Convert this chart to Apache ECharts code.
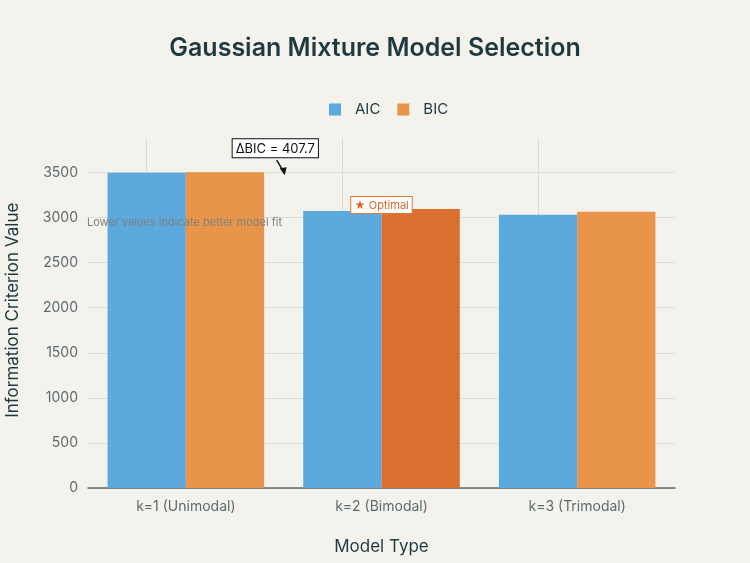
<!DOCTYPE html>
<html>
<head>
<meta charset="utf-8">
<script src="https://cdn.jsdelivr.net/npm/echarts@6/dist/echarts.min.js"></script>
<style>
  html, body { margin: 0; padding: 0; background: #f3f2ed; }
  #chartBox { width: 750px; height: 563px; }
</style>
</head>
<body>
<div id="chartBox"></div>
<script>
// data
const categories = ['k=1 (Unimodal)', 'k=2 (Bimodal)', 'k=3 (Trimodal)'];
const aicValues = [3497, 3073, 3031];
const bicValues = [3503, 3095, 3064];
const optimalIndex = 1;
const deltaBic = 407.7;

const blue = '#5ba9dd';
const orange = '#e8954a';
const orangeDark = '#db6f2f';
const textDark = '#1f3a3f';
const textGrey = '#5e6b6e';
const gridColor = '#dcdcd6';
const font = 'Inter, Liberation Sans, Arial, sans-serif';

const chart = echarts.init(document.getElementById('chartBox'));

const option = {
  backgroundColor: '#f3f2ed',
  textStyle: { fontFamily: font },
  title: {
    text: 'Gaussian Mixture Model Selection',
    left: 'center',
    top: 31,
    textStyle: { fontSize: 25, fontWeight: 600, color: textDark, fontFamily: font }
  },
  legend: {
    top: 97,
    left: 324,
    itemWidth: 12,
    itemHeight: 12,
    itemGap: 17,
    icon: 'rect',
    textStyle: { fontSize: 15, color: textDark, fontFamily: font, padding: [0, 0, 0, 9] },
    data: ['AIC', 'BIC']
  },
  // top edge sits on the 3500 tick; vertical gridlines run higher
  grid: { left: 88, right: 75, top: 172.5, bottom: 75, outerBoundsMode: 'none' },
  xAxis: {
    type: 'category',
    data: categories,
    name: 'Model Type',
    nameLocation: 'middle',
    nameGap: 50,
    nameTextStyle: { fontSize: 17, color: textDark },
    axisTick: { show: false },
    axisLine: { lineStyle: { color: '#5e6b6e', width: 1.5 } },
    axisLabel: { fontSize: 14, color: textGrey, margin: 12 },
    splitLine: { show: false }
  },
  yAxis: {
    type: 'value',
    min: 0,
    max: 3500,
    interval: 500,
    name: 'Information Criterion Value',
    nameLocation: 'middle',
    nameGap: 67,
    nameTextStyle: { fontSize: 17, color: textDark, padding: [0, 0, 0, 40] },
    axisLine: { show: false },
    axisTick: { show: false },
    axisLabel: {
      fontSize: 14, color: textGrey, margin: 10,
      formatter: v => String(v)
    },
    splitLine: { lineStyle: { color: gridColor } }
  },
  series: [
    {
      name: 'AIC',
      type: 'bar',
      data: aicValues,
      barGap: '0%',
      barCategoryGap: '20%',
      clip: false,
      itemStyle: { color: blue },
      // vertical gridlines at the category centres
      markLine: {
        silent: true,
        symbol: 'none',
        label: { show: false },
        lineStyle: { color: gridColor, type: 'solid', width: 1 },
        z: 0,
        data: categories.map(c => [
          { xAxis: c, y: 138 },
          { xAxis: c, y: 488 }
        ])
      }
    },
    {
      name: 'BIC',
      type: 'bar',
      clip: false,
      data: bicValues.map((v, i) => i === optimalIndex
        ? { value: v, itemStyle: { color: orangeDark } }
        : v),
      itemStyle: { color: orange }
    }
  ]
};

chart.setOption(option);

// annotations placed through the axes
function placeAnnotations() {
  const p0 = chart.convertToPixel({ gridIndex: 0 }, [0, 3470]);
  const p1 = chart.convertToPixel({ gridIndex: 0 }, [1, 3470]);
  const arrowTip = [(p0[0] + p1[0]) / 2, p0[1]];
  const optimal = chart.convertToPixel({ gridIndex: 0 }, [optimalIndex, bicValues[optimalIndex]]);
  const boxX = arrowTip[0] - 51;
  const boxY = arrowTip[1] - 36;

  chart.setOption({
    graphic: [
      {
        type: 'line',
        shape: { x1: arrowTip[0] - 7, y1: boxY + 21, x2: arrowTip[0] - 1, y2: arrowTip[1] - 5 },
        style: { stroke: '#111', lineWidth: 1.5 },
        z: 100
      },
      {
        type: 'polygon',
        shape: { points: [[arrowTip[0] + 1, arrowTip[1]], [arrowTip[0] - 4, arrowTip[1] - 7], [arrowTip[0] + 3, arrowTip[1] - 8]] },
        style: { fill: '#111' },
        z: 100
      },
      {
        type: 'text',
        x: boxX,
        y: boxY,
        style: {
          text: '\u0394BIC = ' + deltaBic,
          font: '13px ' + font,
          fill: '#111',
          backgroundColor: '#fff',
          borderColor: '#111',
          borderWidth: 1,
          padding: [3, 3, 2, 3]
        },
        z: 100
      },
      {
        type: 'text',
        x: optimal[0],
        y: optimal[1] + 4,
        style: {
          text: '\u2605 Optimal',
          font: '11px ' + font,
          fill: '#d9692a',
          backgroundColor: '#fff',
          borderColor: '#e07a3a',
          borderWidth: 1,
          padding: [3, 3, 2, 3],
          align: 'center',
          verticalAlign: 'bottom'
        },
        z: 100
      },
      {
        type: 'text',
        x: 87,
        y: 223,
        style: {
          text: 'Lower values indicate better model fit',
          font: '11px ' + font,
          fill: '#808080',
          verticalAlign: 'middle'
        },
        z: 100
      }
    ]
  });
}
placeAnnotations();
</script>
</body>
</html>
